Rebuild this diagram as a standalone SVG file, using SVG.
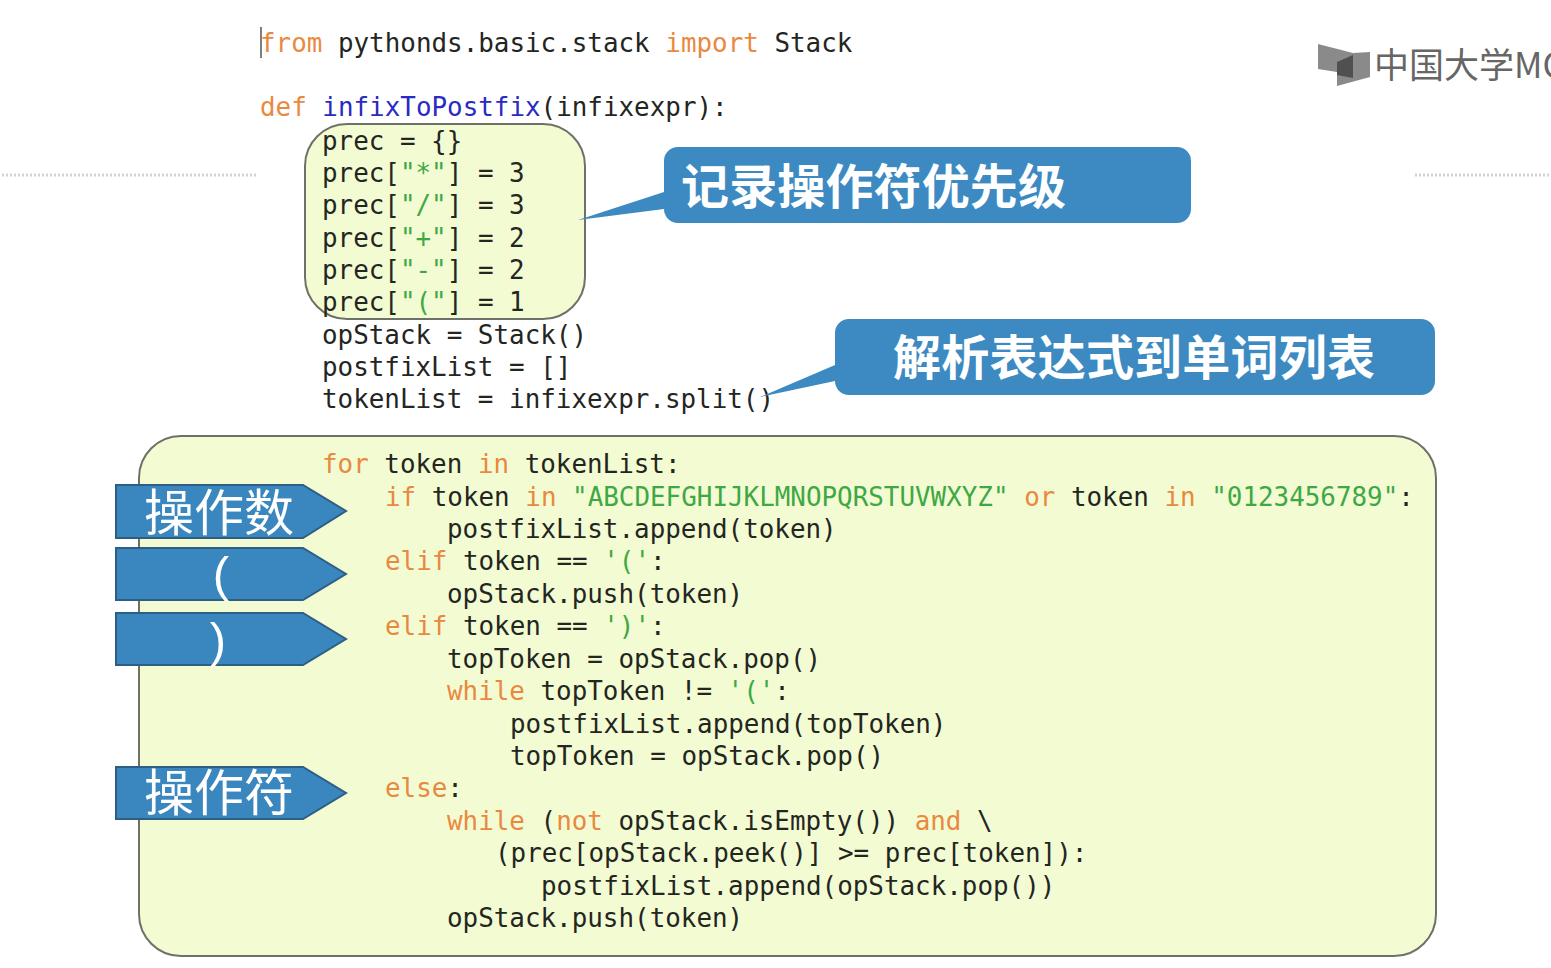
<svg xmlns="http://www.w3.org/2000/svg" width="1551" height="968" viewBox="0 0 1551 968">
<style>
.c{font-family:"DejaVu Sans Mono","Liberation Mono",monospace;font-size:25.9px;fill:#23261f;white-space:pre}
.k{fill:#e9893f}.s{fill:#3fa845}.f{fill:#2a2ac4}
.p{fill:#f3fbd3;stroke:#6f7068;stroke-width:2}
.b{fill:#3c8ac1}
.a{fill:#3a86bf;stroke:#2d5f85;stroke-width:2}
.h{font-family:"Noto Sans CJK SC",sans-serif;font-size:48px;font-weight:700;fill:#fff}
.l{font-family:"Noto Sans CJK SC",sans-serif;font-size:50px;fill:#fff}
.q{font-family:"Liberation Sans",sans-serif;font-size:49px;fill:#fff}
.d{stroke:#d4d4d4;stroke-width:3;stroke-dasharray:2 2}
</style>
<rect width="1551" height="968" fill="#fff"/>
<g id="dots"><line class="d" x1="2" y1="175" x2="256" y2="175"/><line class="d" x1="1415" y1="175" x2="1551" y2="175"/></g>
<g id="logo">
<polygon points="1318,44 1353,53 1370,52 1370,77 1337,86 1337,72 1318,69" fill="#8a8a8a"/>
<polygon points="1337,62 1353,55 1353,78 1337,75" fill="#505050"/>
<text x="1374" y="78" font-family="'Noto Sans CJK SC',sans-serif" font-size="35" fill="#666">中国大学MO</text>
</g>
<g id="header-code">
<line x1="261" y1="27" x2="261" y2="58" stroke="#555" stroke-width="1.5"/>
<text class="c" x="260" y="52"><tspan class="k">from</tspan> pythonds.basic.stack <tspan class="k">import</tspan> Stack</text>
<text class="c" x="260" y="116"><tspan class="k">def</tspan> <tspan class="f">infixToPostfix</tspan>(infixexpr):</text>
</g>
<g id="prec-panel"><rect class="p" x="305" y="124" width="280" height="195" rx="42"/></g>
<g id="big-panel"><rect class="p" x="139" y="436" width="1297" height="520" rx="42"/></g>
<g id="prec-code">
<text class="c" x="322" y="150">prec = {}</text>
<text class="c" x="322" y="182">prec[<tspan class="s">"*"</tspan>] = 3</text>
<text class="c" x="322" y="214">prec[<tspan class="s">"/"</tspan>] = 3</text>
<text class="c" x="322" y="247">prec[<tspan class="s">"+"</tspan>] = 2</text>
<text class="c" x="322" y="279">prec[<tspan class="s">"-"</tspan>] = 2</text>
<text class="c" x="322" y="311">prec[<tspan class="s">"("</tspan>] = 1</text>
<text class="c" x="322" y="344">opStack = Stack()</text>
<text class="c" x="322" y="376">postfixList = []</text>
<text class="c" x="322" y="408">tokenList = infixexpr.split()</text>
</g>
<g id="loop-code">
<text class="c" x="322" y="473"><tspan class="k">for</tspan> token <tspan class="k">in</tspan> tokenList:</text>
<text class="c" x="385" y="506"><tspan class="k">if</tspan> token <tspan class="k">in</tspan> <tspan class="s">"ABCDEFGHIJKLMNOPQRSTUVWXYZ"</tspan> <tspan class="k">or</tspan> token <tspan class="k">in</tspan> <tspan class="s">"0123456789"</tspan>:</text>
<text class="c" x="447" y="538">postfixList.append(token)</text>
<text class="c" x="385" y="570"><tspan class="k">elif</tspan> token == <tspan class="s">'('</tspan>:</text>
<text class="c" x="447" y="603">opStack.push(token)</text>
<text class="c" x="385" y="635"><tspan class="k">elif</tspan> token == <tspan class="s">')'</tspan>:</text>
<text class="c" x="447" y="668">topToken = opStack.pop()</text>
<text class="c" x="447" y="700"><tspan class="k">while</tspan> topToken != <tspan class="s">'('</tspan>:</text>
<text class="c" x="510" y="733">postfixList.append(topToken)</text>
<text class="c" x="510" y="765">topToken = opStack.pop()</text>
<text class="c" x="385" y="797"><tspan class="k">else</tspan>:</text>
<text class="c" x="447" y="830"><tspan class="k">while</tspan> (<tspan class="k">not</tspan> opStack.isEmpty()) <tspan class="k">and</tspan> \</text>
<text class="c" x="495" y="862">(prec[opStack.peek()] &gt;= prec[token]):</text>
<text class="c" x="541" y="895">postfixList.append(opStack.pop())</text>
<text class="c" x="447" y="927">opStack.push(token)</text>
</g>
<g id="callout-precedence">
<path class="b" d="M678,147H1177a14,14 0 0 1 14,14V209a14,14 0 0 1 -14,14H678a14,14 0 0 1 -14,-14L578,220L664,192V161a14,14 0 0 1 14,-14Z"/>
<text class="h" x="681" y="204" textLength="385">记录操作符优先级</text>
</g>
<g id="callout-tokens">
<path class="b" d="M849,319H1421a14,14 0 0 1 14,14V381a14,14 0 0 1 -14,14H849a14,14 0 0 1 -14,-14L760,397L835,365V333a14,14 0 0 1 14,-14Z"/>
<text class="h" x="893" y="375" textLength="482">解析表达式到单词列表</text>
</g>
<g id="tag-operand"><polygon class="a" points="116,485 303,485 346,511 303,538 116,538"/><text class="l" x="144" y="531">操作数</text></g>
<g id="tag-lparen"><polygon class="a" points="116,548 303,548 346,574 303,600 116,600"/><text class="q" x="221" y="591" text-anchor="middle">(</text></g>
<g id="tag-rparen"><polygon class="a" points="116,613 303,613 346,639 303,665 116,665"/><text class="q" x="218" y="657" text-anchor="middle">)</text></g>
<g id="tag-operator"><polygon class="a" points="116,767 303,767 346,793 303,819 116,819"/><text class="l" x="144" y="811">操作符</text></g>
<g id="connectors"></g>
</svg>
